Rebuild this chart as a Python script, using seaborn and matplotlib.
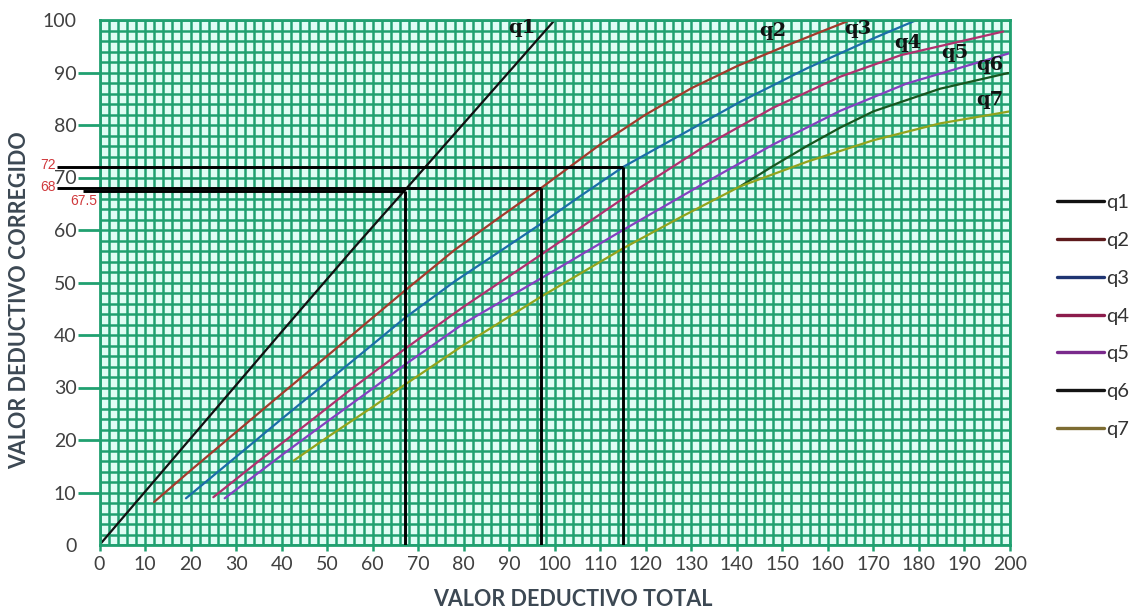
import numpy as np
import pandas as pd
import matplotlib
matplotlib.use("Agg")
import matplotlib.pyplot as plt
from matplotlib.lines import Line2D
import seaborn as sns

# Curvas de valor deducido corregido (q = número de valores deducidos > 2)
q1_x = [0, 20, 40, 55.5, 67, 80, 100]
q1_y = [0, 20.3, 40.6, 56.2, 67.5, 80.3, 100]

q2_x = [12, 20, 30, 40, 50, 60, 67, 78, 88, 97, 102, 110, 120, 130, 140, 150, 158, 165]
q2_y = [8.2, 14.2, 21.5, 28.8, 36.0, 43.3, 48.4, 56.2, 62.5, 68.0, 71.2, 76.3, 82.0, 87.0, 91.2, 94.8, 97.6, 100]

q3_x = [19, 30, 40, 50, 60, 67, 78, 88.4, 97, 105, 115, 126, 140.7, 155.4, 170, 179.5]
q3_y = [8.9, 16.8, 24.0, 31.1, 38.2, 43.2, 50.2, 56.2, 61.2, 66.1, 72.0, 77.3, 84.4, 90.8, 96.5, 100]

q4_x = [25, 35, 45, 55, 67, 80, 97, 115, 133.4, 148, 162.7, 176, 198.5]
q4_y = [9.1, 16.0, 22.7, 29.5, 37.3, 45.4, 55.3, 66.0, 76.2, 83.3, 89.2, 93.3, 97.8]

q5_x = [27.5, 40, 50, 60, 67, 80, 97, 115, 133.4, 148, 162.7, 177.3, 200]
q5_y = [8.9, 17.1, 23.5, 29.8, 34.3, 42.2, 50.8, 60.0, 69.2, 76.3, 82.7, 87.9, 93.7]

q6_x = [140.7, 148, 155.4, 162.7, 170, 184.6, 199.6]
q6_y = [68.3, 72.2, 76.0, 79.5, 82.6, 86.9, 89.9]

q7_x = [42.7, 50, 60, 67, 80, 97, 115, 128, 140.7, 155.4, 170, 184.6, 200]
q7_y = [16.1, 20.5, 26.3, 30.5, 38.1, 47.3, 56.5, 62.6, 68.3, 73.0, 77.1, 80.3, 82.6]

curve_names = ["q1", "q2", "q3", "q4", "q5", "q6", "q7"]
curve_x = [q1_x, q2_x, q3_x, q4_x, q5_x, q6_x, q7_x]
curve_y = [q1_y, q2_y, q3_y, q4_y, q5_y, q6_y, q7_y]

# Lecturas del ábaco: VDT -> VDC
read_vdt = [67, 97, 115]
read_vdc = [67.5, 68, 72]
read_labels = ["67.5", "68", "72"]

x_ticks = list(range(0, 201, 10))
y_ticks = list(range(0, 101, 10))

line_colors = {
    "q1": "#111111", "q2": "#a33a2c", "q3": "#1b6ea8", "q4": "#b0306e",
    "q5": "#8440c0", "q6": "#17561f", "q7": "#92a31c",
}
legend_colors = {
    "q1": "#111111", "q2": "#5e1a1c", "q3": "#1f3572", "q4": "#8c1c4c",
    "q5": "#7a2a8c", "q6": "#141414", "q7": "#7d6c32",
}

GREEN = "#20a070"
PAPER = "#e0fdf5"
TEXT = "#404040"
TITLE = "#3c4853"

sns.set_theme(style="white")
plt.rcParams["font.family"] = ["Lato", "DejaVu Sans"]

df = pd.concat(
    [pd.DataFrame({"VDT": xs, "VDC": ys, "curva": name})
     for name, xs, ys in zip(curve_names, curve_x, curve_y)],
    ignore_index=True,
)

fig = plt.figure(figsize=(11.39, 6.10), dpi=100)
ax = fig.add_axes([99.5 / 1139, 65 / 610, 910.5 / 1139, 525 / 610])
ax.set_facecolor(PAPER)

# Papel cuadriculado cada 2 unidades
ax.set_xlim(0, 200)
ax.set_ylim(0, 100)
ax.set_xticks(x_ticks)
ax.set_yticks(y_ticks)
ax.set_xticks(np.arange(0, 201, 2), minor=True)
ax.set_yticks(np.arange(0, 101, 2), minor=True)
ax.grid(which="both", color=GREEN, linewidth=1.8)
ax.set_axisbelow(True)
for sp in ax.spines.values():
    sp.set_color(GREEN)
    sp.set_linewidth(2)

sns.lineplot(data=df, x="VDT", y="VDC", hue="curva", palette=line_colors,
             estimator=None, sort=False, legend=False, linewidth=1.6, ax=ax)

# Líneas de lectura
starts = [-3.6, -9.3, -9.3]
for vdt, vdc, x0 in zip(read_vdt, read_vdc, starts):
    ax.plot([x0, vdt], [vdc, vdc], color="black", linewidth=2.1,
            clip_on=False, zorder=5, solid_capstyle="butt")
    ax.plot([vdt, vdt], [vdc, 0], color="black", linewidth=2.1,
            zorder=5, solid_capstyle="butt")

label_pos = {"72": (-9.6, 72.4), "68": (-9.6, 68.1), "67.5": (-0.6, 65.6)}
for lab in read_labels:
    lx, ly = label_pos[lab]
    ax.text(lx, ly, lab, ha="right", va="center", color="#d0393c",
            fontsize=10, family=["Liberation Sans", "DejaVu Sans"],
            clip_on=False)

# Etiquetas de las curvas
curve_label_pos = {
    "q1": (92.8, 98.4), "q2": (148.0, 98.0), "q3": (166.6, 98.3),
    "q4": (177.6, 95.6), "q5": (188.0, 93.7), "q6": (195.6, 91.4),
    "q7": (195.6, 84.8),
}
for name in curve_names:
    tx, ty = curve_label_pos[name]
    ax.text(tx, ty, name, ha="center", va="center", fontsize=14,
            fontweight="bold", family=["DejaVu Serif"], color="#111111",
            zorder=6)

# Ejes
ax.tick_params(axis="x", which="major", length=4, width=1.8, color=GREEN,
               pad=4, labelsize=14, labelcolor=TEXT, bottom=True)
ax.tick_params(axis="y", which="major", length=16, width=2, color=GREEN,
               pad=0.5, labelsize=14, labelcolor=TEXT, left=True)
ax.tick_params(which="minor", length=0)
yt = ax.yaxis.get_major_ticks()
yt[0].tick1line.set_visible(False)
yt[-1].tick1line.set_visible(False)

ax.set_xlabel("VALOR DEDUCTIVO TOTAL", fontsize=15.5, fontweight="bold",
              color=TITLE)
ax.set_ylabel("VALOR DEDUCTIVO CORREGIDO", fontsize=15.5, fontweight="bold",
              color=TITLE)
ax.xaxis.set_label_coords(0.52, -0.084)
ax.yaxis.set_label_coords(-0.076, 0.467)

handles = [Line2D([0], [0], color=legend_colors[n], linewidth=2.4)
           for n in curve_names]
fig.legend(handles, curve_names, loc="upper left",
           bbox_to_anchor=(1057 / 1139, 1 - 194 / 610), frameon=False,
           fontsize=14.5, labelcolor="#333333", handlelength=2.35,
           handletextpad=0.1, labelspacing=1.03, borderpad=0,
           borderaxespad=0)

fig.savefig("out.png", dpi=100)
